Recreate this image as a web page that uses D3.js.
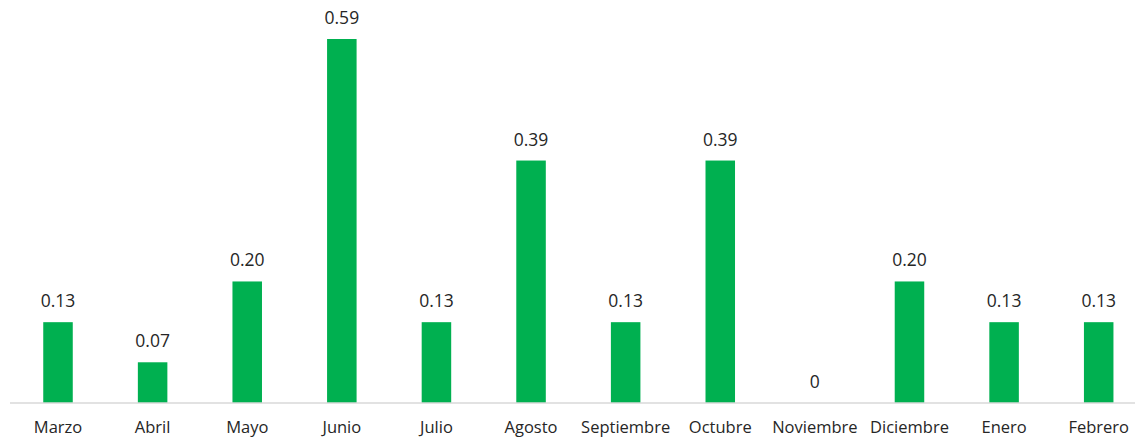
<!DOCTYPE html>
<html>
<head>
<meta charset="utf-8">
<script src="https://cdn.jsdelivr.net/npm/d3@7"></script>
<style>
  body { margin: 0; background: #fff; }
</style>
</head>
<body>
<div id="chart"></div>
<script>
// datos
var months = ['Marzo', 'Abril', 'Mayo', 'Junio', 'Julio', 'Agosto', 'Septiembre',
  'Octubre', 'Noviembre', 'Diciembre', 'Enero', 'Febrero'];
var values = [0.131, 0.066, 0.197, 0.590, 0.131, 0.393, 0.131, 0.393, 0, 0.197, 0.131, 0.131];

var width = 1135;
var height = 441;
var barColor = '#00b050';
var baseY = 403;

var svg = d3.select('#chart').append('svg')
  .attr('width', width)
  .attr('height', height)
  .style('font-family', '"Open Sans", sans-serif');

var x = d3.scaleBand()
  .domain(months)
  .range([10.7, 1146])
  .paddingInner(0.688)
  .paddingOuter(0.344);

var y = d3.scaleLinear()
  .domain([0, 0.59])
  .range([baseY, 39]);

// barras
svg.selectAll('rect.bar')
  .data(values)
  .enter()
  .append('rect')
  .attr('class', 'bar')
  .attr('x', function (d, i) { return x(months[i]); })
  .attr('y', function (d) { return y(d); })
  .attr('width', x.bandwidth())
  .attr('height', function (d) { return baseY - y(d); })
  .attr('fill', barColor);

// eje
var axis = svg.append('g')
  .attr('transform', 'translate(0,' + baseY + ')')
  .call(d3.axisBottom(x).tickSize(0).tickPadding(18));
axis.select('.domain').remove();
axis.append('line')
  .attr('x1', 10)
  .attr('x2', width)
  .attr('stroke', '#d9d9d9')
  .attr('stroke-width', 1.5);
axis.selectAll('text')
  .attr('fill', '#262626')
  .style('font-size', '16.5px')
  .style('font-family', '"Open Sans", sans-serif');

// etiquetas
svg.selectAll('text.value')
  .data(values)
  .enter()
  .append('text')
  .attr('class', 'value')
  .attr('x', function (d, i) { return x(months[i]) + x.bandwidth() / 2; })
  .attr('y', function (d) { return y(d) - 15; })
  .attr('text-anchor', 'middle')
  .attr('fill', '#262626')
  .style('font-size', '17.5px')
  .text(function (d) { return d === 0 ? '0' : d3.format('.2f')(d); });
</script>
</body>
</html>
